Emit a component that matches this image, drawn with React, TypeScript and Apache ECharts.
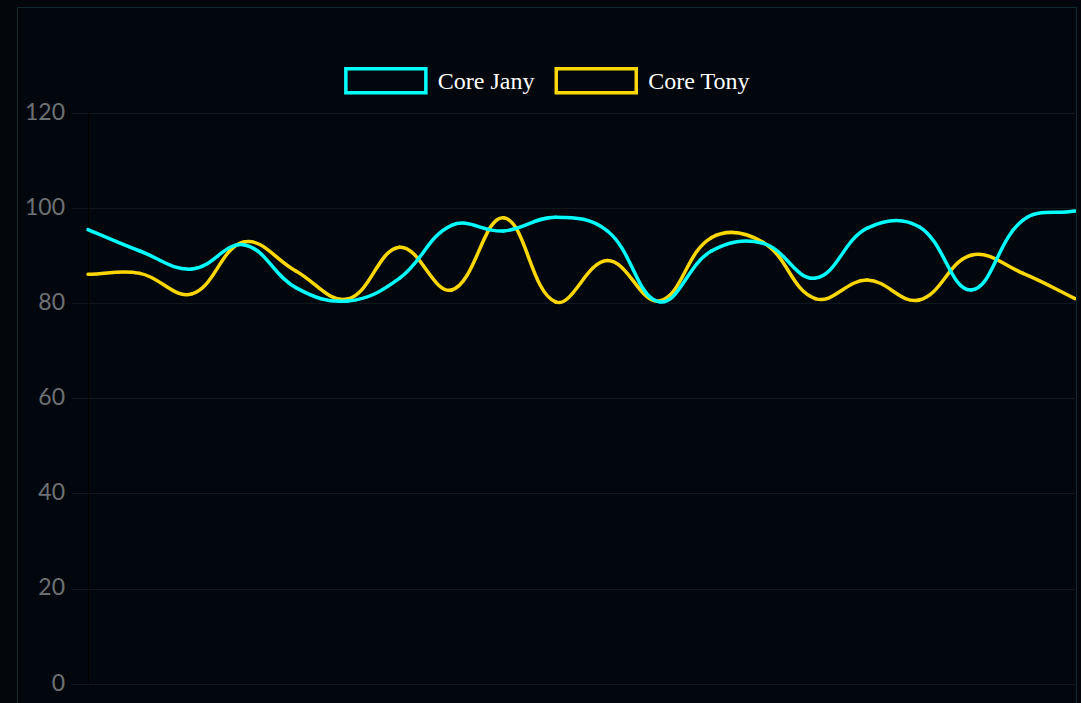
import React, { useEffect, useRef } from "react";
import * as echarts from "echarts";

const categories = ["1", "2", "3", "4", "5", "6", "7", "8", "9", "10", "11", "12", "13", "14", "15", "16", "17", "18", "19", "20"];
const janyValues = [95.5, 91, 87.2, 92.3, 83.3, 80.5, 85.3, 96.4, 95.2, 98.1, 95.2, 80.3, 91, 92.6, 85.3, 95.8, 96.1, 82.8, 97.5, 99.4];
const tonyValues = [86.1, 86.3, 82, 92.9, 86.8, 80.9, 91.8, 82.8, 98, 80.3, 89, 80.5, 93.8, 92.8, 81, 84.9, 80.7, 90.1, 86.3, 81];
const yTicks = { min: 0, max: 120, interval: 20 };
const seriesNames = ["Core Jany", "Core Tony"];
const seriesColors = ["#00ffff", "#ffd700"];
const TENSION = 0.4;

function splineSeries(name: string, values: number[], color: string, z: number) {
  return {
    name,
    type: "custom",
    z,
    clip: false,
    encode: { x: 0, y: 1 },
    itemStyle: { color },
    data: values.map((v, i) => [i, v]),
    renderItem: (params: any, api: any) => {
      const i = params.dataIndex;
      const n = values.length;
      if (i >= n - 1) return { type: "group", children: [] };
      const pt = (k: number) => {
        const kk = Math.max(0, Math.min(n - 1, k));
        return api.coord([kk, values[kk]]);
      };
      const ctrl = (k: number) => {
        const prev = pt(k - 1);
        const cur = pt(k);
        const next = pt(k + 1);
        const d01 = Math.hypot(cur[0] - prev[0], cur[1] - prev[1]);
        const d12 = Math.hypot(next[0] - cur[0], next[1] - cur[1]);
        let s01 = d01 / (d01 + d12);
        let s12 = d12 / (d01 + d12);
        if (!isFinite(s01)) s01 = 0;
        if (!isFinite(s12)) s12 = 0;
        const fa = TENSION * s01;
        const fb = TENSION * s12;
        return {
          prev: [cur[0] - fa * (next[0] - prev[0]), cur[1] - fa * (next[1] - prev[1])],
          next: [cur[0] + fb * (next[0] - prev[0]), cur[1] + fb * (next[1] - prev[1])],
        };
      };
      const p0 = pt(i);
      const p1 = pt(i + 1);
      const c0 = ctrl(i).next;
      const c1 = ctrl(i + 1).prev;
      return {
        type: "bezierCurve",
        shape: { x1: p0[0], y1: p0[1], x2: p1[0], y2: p1[1], cpx1: c0[0], cpy1: c0[1], cpx2: c1[0], cpy2: c1[1] },
        style: { stroke: color, lineWidth: 3.5, fill: null, lineCap: "round", lineJoin: "round" },
        silent: true,
      };
    },
  };
}

export default function App() {
  const ref = useRef<HTMLDivElement>(null);
  useEffect(() => {
    if (!ref.current) return;
    const chart = echarts.init(ref.current, null, { renderer: "svg" });
    chart.setOption({
      animation: false,
      backgroundColor: "transparent",
      legend: {
        left: "center",
        top: 59,
        padding: 0,
        itemWidth: 80,
        itemHeight: 24,
        itemGap: 20,
        icon: "rect",
        textStyle: {
          color: "#ffffff",
          fontFamily: "Liberation Serif, serif",
          fontSize: 24,
          padding: [0, 0, 2, 7],
        },
        data: seriesNames.map((n, i) => ({
          name: n,
          itemStyle: { color: "transparent", borderColor: seriesColors[i], borderWidth: 3.5 },
        })),
      },
      grid: { left: 70, right: 1, top: 105, bottom: 124, containLabel: false },
      xAxis: {
        type: "category",
        data: categories,
        boundaryGap: false,
        axisLine: { show: true, lineStyle: { color: "#11181d", width: 1 } },
        axisTick: { show: false },
        axisLabel: { show: false },
        splitLine: { show: false },
      },
      yAxis: {
        type: "value",
        min: yTicks.min,
        max: yTicks.max,
        interval: yTicks.interval,
        axisLine: { show: true, lineStyle: { color: "#000000", width: 1 } },
        axisTick: { show: true, length: 16, lineStyle: { color: "#11181d" } },
        axisLabel: {
          margin: 23,
          formatter: "{a|{value}}",
          rich: { a: { color: "#6e7174", fontSize: 23, fontFamily: "Lato", padding: [0, 0, 5, 0] } },
        },
        splitLine: { show: true, lineStyle: { color: "#11181d", width: 1 } },
      },
      series: [
        splineSeries(seriesNames[0], janyValues, seriesColors[0], 3),
        splineSeries(seriesNames[1], tonyValues, seriesColors[1], 2),
      ],
    });
    return () => chart.dispose();
  }, []);

  return (
    <div style={{ position: "fixed", left: 0, top: 0, width: 1081, height: 703, overflow: "hidden", background: "#03060a" }}>
      <div
        style={{
          position: "absolute",
          left: 17,
          top: 7,
          width: 1058,
          height: 800,
          border: "1px solid #0b2a2d",
          background: "#01070d",
        }}
      >
        <div ref={ref} style={{ width: 1058, height: 800 }} />
      </div>
    </div>
  );
}
